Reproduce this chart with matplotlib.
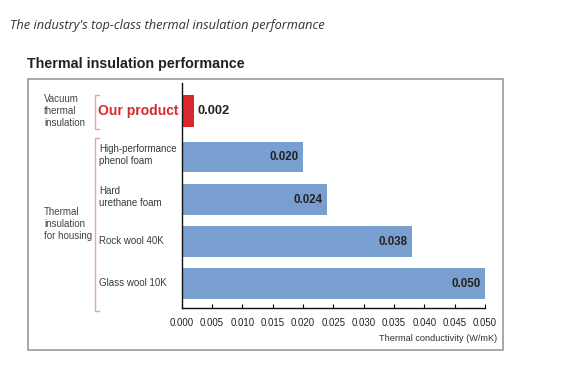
import matplotlib
matplotlib.use("Agg")
import matplotlib.pyplot as plt
from matplotlib.patches import Rectangle
from matplotlib.lines import Line2D

# ---- data ----
categories = ["Our product", "High-performance\nphenol foam", "Hard\nurethane foam",
              "Rock wool 40K", "Glass wool 10K"]
values = [0.002, 0.020, 0.024, 0.038, 0.050]
value_labels = ["0.002", "0.020", "0.024", "0.038", "0.050"]
xticks = [0.000, 0.005, 0.010, 0.015, 0.020, 0.025, 0.030, 0.035, 0.040, 0.045, 0.050]
xtick_labels = ["0.000", "0.005", "0.010", "0.015", "0.020", "0.025", "0.030",
                "0.035", "0.040", "0.045", "0.050"]
group_labels = ["Vacuum\nthermal\ninsulation", "Thermal\ninsulation\nfor housing"]

W, H = 570, 370
fig = plt.figure(figsize=(W / 100, H / 100), dpi=100)
plt.rcParams['font.family'] = ['Liberation Sans', 'DejaVu Sans']

def fx(px):
    return px / W

def fy(py):
    return 1 - py / H

# header texts
fig.text(fx(10), fy(26), "The industry's top-class thermal insulation performance",
         fontsize=9.2, style='italic', family=['Open Sans', 'DejaVu Sans'],
         color='#333333', va='center', ha='left')
fig.text(fx(27), fy(64), "Thermal insulation performance", fontsize=10.3,
         fontweight='bold', color='#222222', va='center', ha='left')

# frame box
fig.patches.append(Rectangle((fx(28), fy(349.5)), fx(503) - fx(28), fy(79) - fy(349.5),
                             transform=fig.transFigure, fill=False,
                             edgecolor='#9a9a9a', linewidth=1.2))

# axes
ax = fig.add_axes([fx(181.5), fy(308), fx(485) - fx(181.5), fy(83) - fy(308)])
ypos = [0, 1.095, 2.107, 3.107, 4.107]
colors = ['#d8282e', '#789fd0', '#789fd0', '#789fd0', '#789fd0']
heights = [0.75, 0.72, 0.72, 0.72, 0.72]
ax.barh(ypos, values, height=heights, color=colors, edgecolor='none', zorder=2)
ax.set_xlim(0, 0.050)
ax.set_ylim(4.69, -0.667)
ax.set_yticks([])
ax.set_xticks(xticks)
ax.set_xticklabels(xtick_labels, fontsize=6.9, color='#222222')
ax.tick_params(axis='x', direction='in', length=3, width=0.8, pad=7)
for s in ['top', 'right']:
    ax.spines[s].set_visible(False)
for s in ['left', 'bottom']:
    ax.spines[s].set_linewidth(1.0)
    ax.spines[s].set_color('#111111')
ax.set_xlabel("Thermal conductivity (W/mK)", fontsize=6.6, color='#333333',
              ha='right')
ax.xaxis.set_label_coords(1.04, -0.115)

# value labels
ax.text(values[0] + 0.0006, ypos[0], value_labels[0], fontsize=9.3,
        fontweight='bold', color='#222222', va='center', ha='left')
for v, y, lab in zip(values[1:], ypos[1:], value_labels[1:]):
    ax.text(v - 0.0007, y, lab, fontsize=8.3, fontweight='bold',
            color='#222222', va='center', ha='right')

# category labels (left of axes)
fig.text(fx(98), fy(111), categories[0], fontsize=10, fontweight='bold',
         color='#d8282e', va='center', ha='left')
cat_y = [155.5, 197, 241, 283]
for lab, y in zip(categories[1:], cat_y):
    fig.text(fx(99), fy(y), lab, fontsize=7, color='#3a3a3a', va='center',
             ha='left', linespacing=1.25)

# group labels
fig.text(fx(44), fy(111), group_labels[0], fontsize=7, color='#444444',
         va='center', ha='left', linespacing=1.25)
fig.text(fx(44), fy(224), group_labels[1], fontsize=7, color='#444444',
         va='center', ha='left', linespacing=1.25)

# brackets
bc = '#eba3a6'
def bracket(top, bot, x=95, tick=3.5):
    fig.lines.append(Line2D([fx(x + tick), fx(x), fx(x), fx(x + tick)],
                            [fy(top), fy(top), fy(bot), fy(bot)],
                            transform=fig.transFigure, color=bc, linewidth=1.0))
bracket(95.5, 128.5)
bracket(137.5, 311)

fig.savefig("out.png", dpi=100)
